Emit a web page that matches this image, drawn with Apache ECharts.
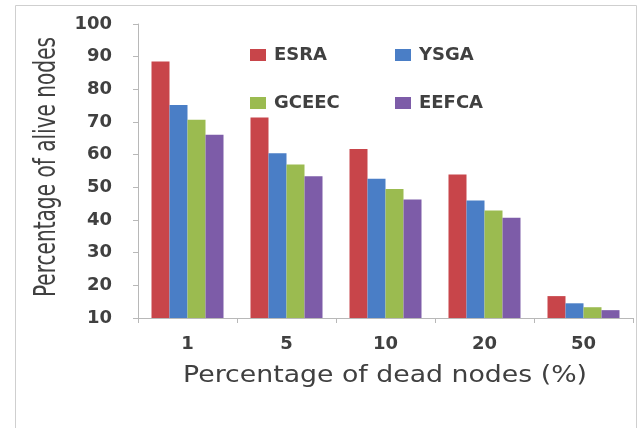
<!DOCTYPE html>
<html>
<head>
<meta charset="utf-8">
<script src="https://cdn.jsdelivr.net/npm/echarts@6/dist/echarts.min.js"></script>
<style>
  html, body { margin: 0; padding: 0; background: #ffffff; }
  #chart { width: 641px; height: 428px; }
</style>
</head>
<body>
<div id="chart"></div>
<script>
// Categories: percentage of dead nodes
const categories = ['1', '5', '10', '20', '50'];

// Percentage of alive nodes per protocol
const esra  = [88.5, 71.4, 61.7, 53.9, 16.7];
const ysga  = [75.2, 60.4, 52.6, 46.0, 14.5];
const gceec = [70.7, 57.0, 49.5, 42.9, 13.3];
const eefca = [66.1, 53.4, 46.3, 40.7, 12.4];

// Value axis range
const yMin = 10;
const yMax = 100;
const yStep = 10;

const seriesNames = ['ESRA', 'YSGA', 'GCEEC', 'EEFCA'];
const seriesColors = ['#C8454A', '#4A7EC6', '#9BBB50', '#7D5CA8'];
const seriesValues = [esra, ysga, gceec, eefca];

const xTitle = 'Percentage of dead nodes (%)';
const yTitle = 'Percentage of alive nodes';

const textColor = '#404040';
const fontFamily = 'DejaVu Sans';

// Measure a string so the axis titles can be stretched to a set length
function textWidth(str, font) {
  const ctx = document.createElement('canvas').getContext('2d');
  ctx.font = font;
  return ctx.measureText(str).width;
}

const xTitleFont = '23px "DejaVu Sans"';
const yTitleFont = '31px "DejaVu Sans Condensed"';
const xTitleScale = 404 / textWidth(xTitle, xTitleFont);
const yTitleScale = 260 / textWidth(yTitle, yTitleFont);

const chart = echarts.init(document.getElementById('chart'), null, { renderer: 'canvas' });

const legendStyle = {
  orient: 'vertical',
  padding: 0,
  itemWidth: 16,
  itemHeight: 12,
  itemGap: 30,
  icon: 'rect',
  textStyle: { fontFamily: fontFamily, fontSize: 18, fontWeight: 'bold', color: textColor, padding: [0, 0, 0, 3] }
};

const axisGrey = '#b8b8b8';

chart.setOption({
  animation: false,
  backgroundColor: '#ffffff',
  graphic: [
    {
      type: 'rect',
      shape: { x: 15.5, y: 5.5, width: 621, height: 430 },
      style: { fill: 'none', stroke: '#cfcfcf', lineWidth: 1 },
      silent: true
    },
    {
      // x-axis title
      type: 'text',
      x: 385,
      y: 376,
      scaleX: xTitleScale,
      style: {
        text: xTitle,
        font: xTitleFont,
        fill: textColor,
        align: 'center',
        verticalAlign: 'middle'
      },
      silent: true
    },
    {
      // y-axis title, rotated to read bottom-to-top
      type: 'text',
      x: 47,
      y: 167,
      rotation: Math.PI / 2,
      scaleX: yTitleScale,
      style: {
        text: yTitle,
        font: yTitleFont,
        fill: textColor,
        align: 'center',
        verticalAlign: 'middle'
      },
      silent: true
    }
  ],
  legend: [
    Object.assign({ left: 250, top: 46, data: ['ESRA', 'GCEEC'] }, legendStyle),
    Object.assign({ left: 395, top: 46, data: ['YSGA', 'EEFCA'] }, legendStyle)
  ],
  grid: { left: 138, right: 8, top: 24, bottom: 110, containLabel: false },
  xAxis: {
    type: 'category',
    data: categories,
    axisLine: { lineStyle: { color: axisGrey, width: 1 } },
    axisTick: { show: true, length: 5, lineStyle: { color: axisGrey } },
    axisLabel: { fontFamily: fontFamily, fontSize: 18, fontWeight: 'bold', color: textColor, margin: 17 }
  },
  yAxis: {
    type: 'value',
    min: yMin,
    max: yMax,
    interval: yStep,
    axisLine: { show: true, lineStyle: { color: axisGrey, width: 1 } },
    axisTick: { show: true, length: 5, lineStyle: { color: axisGrey } },
    splitLine: { show: false },
    axisLabel: { fontFamily: fontFamily, fontSize: 18, fontWeight: 'bold', color: textColor, margin: 26 }
  },
  series: seriesNames.map((name, i) => ({
    name: name,
    type: 'bar',
    data: seriesValues[i],
    barWidth: 18,
    barGap: '0%',
    itemStyle: { color: seriesColors[i] }
  }))
});
</script>
</body>
</html>
